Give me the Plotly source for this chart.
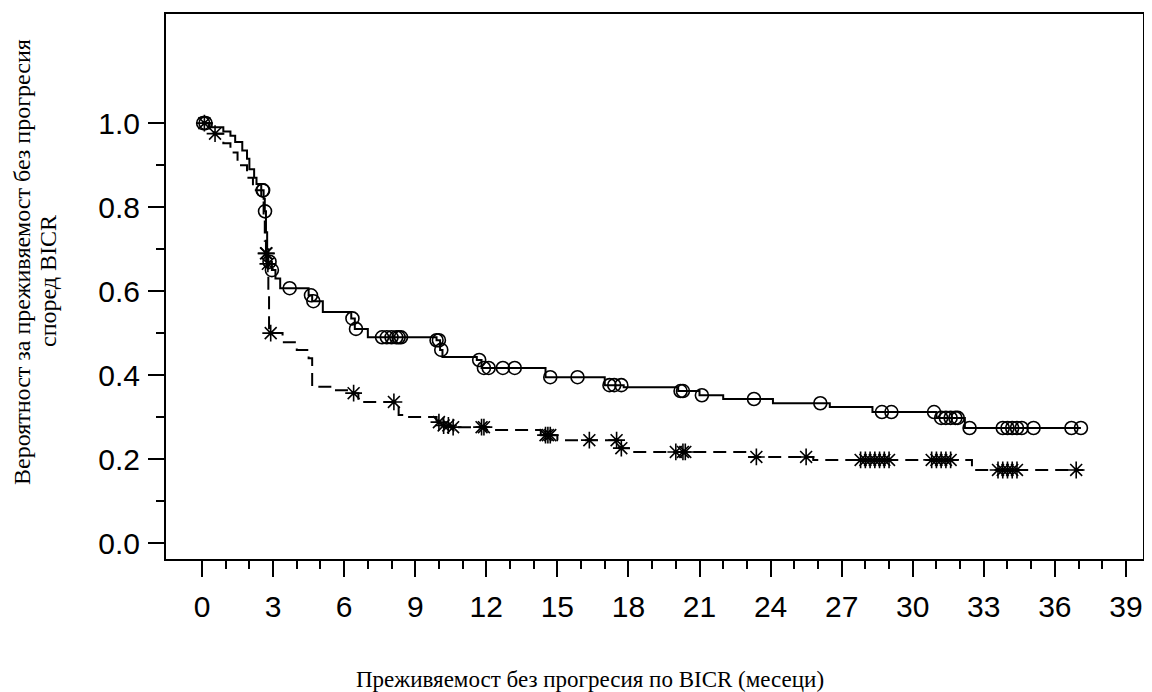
import plotly.graph_objects as go
import bisect

# Arm A (solid line, circles): event times (months) and survival after each step
time_a = [0, 0.4, 0.9, 1.2, 1.4, 1.7, 1.9, 2.0, 2.2, 2.3, 2.5, 2.6, 2.65, 2.7, 2.75, 2.8,
          2.95, 3.1, 3.3, 4.5, 4.65, 5.1, 6.3, 6.45, 7.0, 9.9, 10.05, 10.15, 11.6, 11.8,
          14.5, 17.0, 17.8, 20.1, 21.0, 22.0, 24.1, 26.5, 28.3, 31.0, 32.2, 37.1]
surv_a = [1.0, 0.99, 0.98, 0.97, 0.955, 0.935, 0.915, 0.89, 0.87, 0.855, 0.84, 0.82, 0.79,
          0.74, 0.70, 0.67, 0.65, 0.63, 0.607, 0.59, 0.576, 0.55, 0.535, 0.51, 0.49, 0.483,
          0.46, 0.443, 0.436, 0.417, 0.395, 0.376, 0.371, 0.362, 0.352, 0.343, 0.333,
          0.324, 0.312, 0.298, 0.274, 0.274]
cens_a = [0.05, 0.15, 2.56, 2.58, 2.66, 2.85, 2.95, 3.7, 4.6, 4.7, 6.35, 6.5, 7.6, 7.8,
          8.0, 8.2, 8.3, 8.4, 9.9, 10.0, 10.1, 11.7, 11.9, 12.1, 12.7, 13.2, 14.7, 15.85,
          17.2, 17.4, 17.7, 20.2, 20.3, 21.1, 23.3, 26.1, 28.7, 29.1, 30.9, 31.2, 31.4,
          31.6, 31.8, 31.9, 32.4, 33.8, 34.0, 34.2, 34.4, 34.6, 35.1, 36.7, 37.1]

# Arm B (dashed line, asterisks)
time_b = [0, 0.3, 0.5, 0.9, 1.2, 1.5, 1.9, 2.15, 2.5, 2.6, 2.65, 2.7, 2.75, 2.8, 2.83,
          3.4, 4.0, 4.5, 4.65, 5.6, 6.2, 6.6, 8.3, 8.6, 9.9, 10.2, 10.5, 12.0, 14.3, 15.0,
          17.6, 18.1, 23.0, 25.8, 32.5, 37.2]
surv_b = [1.0, 0.99, 0.975, 0.952, 0.93, 0.90, 0.87, 0.84, 0.815, 0.78, 0.72, 0.69, 0.665,
          0.60, 0.50, 0.478, 0.46, 0.44, 0.372, 0.364, 0.357, 0.336, 0.305, 0.30, 0.288,
          0.28, 0.276, 0.269, 0.257, 0.245, 0.226, 0.217, 0.205, 0.198, 0.174, 0.174]
cens_b = [0.1, 0.55, 2.7, 2.72, 2.78, 2.9, 6.4, 8.1, 10.0, 10.2, 10.4, 10.6, 11.8, 11.9,
          14.5, 14.6, 14.7, 16.35, 17.5, 17.7, 20.0, 20.3, 20.4, 23.4, 25.5, 27.8, 28.0,
          28.2, 28.4, 28.6, 28.8, 29.0, 30.8, 31.0, 31.2, 31.4, 31.6, 33.6, 33.8, 34.0,
          34.2, 34.4, 36.9]

x_ticks = list(range(0, 40, 3))
x_minor = [m for m in range(0, 40) if m % 3]
y_ticks = [0.0, 0.2, 0.4, 0.6, 0.8, 1.0]
y_minor = [0.1, 0.3, 0.5, 0.7, 0.9]
y_tick_text = ["0.0", "0.2", "0.4", "0.6", "0.8", "1.0"]

x_title = "Преживяемост без прогресия по BICR (месеци)"
y_title_1 = "Вероятност за преживяемост без прогресия"
y_title_2 = "според BICR"


def surv_at(times, surv, t):
    i = bisect.bisect_right(times, t) - 1
    return surv[max(i, 0)]


fig = go.Figure()
fig.add_trace(go.Scatter(x=time_a, y=surv_a, mode="lines", line_shape="hv",
                         line=dict(color="black", width=2), showlegend=False))
fig.add_trace(go.Scatter(x=time_b, y=surv_b, mode="lines", line_shape="hv",
                         line=dict(color="black", width=2, dash="13px,7px"), showlegend=False))
fig.add_trace(go.Scatter(x=cens_a, y=[surv_at(time_a, surv_a, t) for t in cens_a],
                         mode="markers",
                         marker=dict(symbol="circle-open", size=13, color="black",
                                     line=dict(width=1.6, color="black")),
                         showlegend=False))
fig.add_trace(go.Scatter(x=cens_b, y=[surv_at(time_b, surv_b, t) for t in cens_b],
                         mode="markers",
                         marker=dict(symbol="asterisk-open", size=14, color="black",
                                     line=dict(width=1.6, color="black")),
                         showlegend=False))

# page body has an 8px margin; layout is in figure pixels (= window pixels - 8)
OFF = 8
W, H = 1136, 684
L, T = 166 - OFF, 14 - OFF
R = 1
B = H - (559 - OFF)
pw, ph = W - L - R, H - T - B


def px_x(x):
    return (x - OFF - L) / pw


def px_y(y):
    return (H - B - (y - OFF)) / ph


fig.update_layout(
    width=W, height=H,
    margin=dict(l=L, r=R, t=T, b=B, autoexpand=False),
    paper_bgcolor="white", plot_bgcolor="white",
    font=dict(family="Liberation Sans, Arial, sans-serif", color="black", size=30),
)
fig.update_xaxes(
    range=[-1.52, 39.72], showgrid=False, zeroline=False, automargin=False,
    showline=True, linecolor="black", linewidth=2, mirror=True,
    tickmode="array", tickvals=x_ticks, ticks="outside", ticklen=16, tickwidth=2,
    tickcolor="black", tickfont=dict(size=30), ticklabelstandoff=4,
    minor=dict(tickmode="array", tickvals=x_minor, ticks="outside", ticklen=8,
               tickwidth=2, tickcolor="black"),
)
fig.update_yaxes(
    range=[-0.038, 1.26], showgrid=False, zeroline=False, automargin=False,
    showline=True, linecolor="black", linewidth=2, mirror=True,
    tickmode="array", tickvals=y_ticks, ticktext=y_tick_text, ticks="outside",
    ticklen=16, tickwidth=2, tickcolor="black", tickfont=dict(size=30),
    ticklabelstandoff=2,
    minor=dict(tickmode="array", tickvals=y_minor, ticks="outside", ticklen=8,
               tickwidth=2, tickcolor="black"),
)

serif = "Liberation Serif, Times New Roman, serif"
fig.add_annotation(text=x_title, xref="paper", yref="paper",
                   x=px_x(590), y=px_y(679), showarrow=False,
                   xanchor="center", yanchor="middle",
                   font=dict(family=serif, size=23))
fig.add_annotation(text=y_title_1, xref="paper", yref="paper",
                   x=px_x(22), y=px_y(262), showarrow=False,
                   xanchor="center", yanchor="middle", textangle=-90,
                   font=dict(family=serif, size=24))
fig.add_annotation(text=y_title_2, xref="paper", yref="paper",
                   x=px_x(48), y=px_y(281), showarrow=False,
                   xanchor="center", yanchor="middle", textangle=-90,
                   font=dict(family=serif, size=24))

fig.write_html("out.html")
